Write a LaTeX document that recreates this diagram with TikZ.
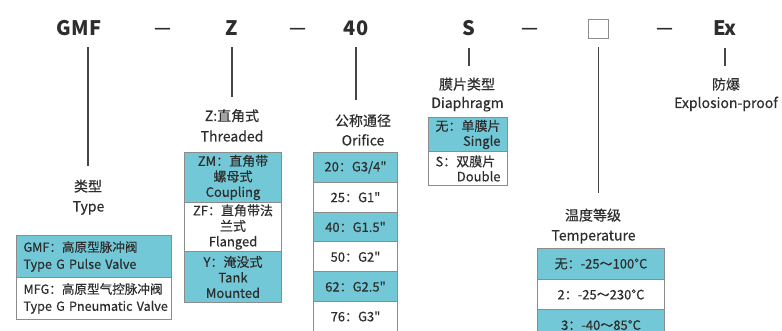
\documentclass[tikz,border=0pt]{standalone}
\usepackage{fontspec}
\setmainfont{Noto Sans CJK SC}
\newfontfamily\medfont{Noto Sans CJK SC}[FakeBold=0.35]
\usetikzlibrary{calc}
\definecolor{cyanfill}{RGB}{114,200,214}
\definecolor{bord}{RGB}{140,140,140}
\definecolor{txt}{RGB}{45,45,45}
\definecolor{conncol}{RGB}{70,70,70}
\tikzset{
  hdr/.style={font=\fontsize{20}{24}\selectfont\bfseries, text=txt, inner sep=0pt, anchor=base},
  dashsym/.style={font=\fontsize{20}{24}\selectfont, text=txt, inner sep=0pt},
  lbl/.style={font=\medfont\fontsize{14}{18}\selectfont, text=txt, inner sep=0pt, anchor=base},
  cell/.style 2 args={draw=bord, line width=1pt, minimum width=#1, minimum height=#2,
    inner sep=0pt, anchor=north west, font=\medfont\fontsize{13}{16}\selectfont, align=center, text=txt},
  cy/.style={fill=cyanfill},
  wh/.style={fill=white},
  conn/.style={draw=conncol, line width=1.4pt},
}
\newcommand\inch{\char34}
\begin{document}
\begin{tikzpicture}[x=1pt,y=-1pt]
\clip (0,0) rectangle (782,331);
\fill[white] (0,0) rectangle (782,331);

% header row
\node[hdr] (gmf) at (79,36) {GMF};
\node[dashsym] (d1) at (162.5,32) {\scalebox{0.95}[1.3]{—}};
\node[hdr] (z) at (232,36) {Z};
\node[dashsym] (d2) at (297.5,32) {\scalebox{0.95}[1.3]{—}};
\node[hdr] (forty) at (356,36) {40};
\node[hdr] (s) at (469,36) {S};
\node[dashsym] (d3) at (530,32) {\scalebox{0.95}[1.3]{—}};
\node[draw=bord, line width=1.2pt, minimum width=20pt, minimum height=18.5pt, inner sep=0pt] (sq) at (598.5,29) {};
\node[dashsym] (d4) at (665,32) {\scalebox{0.95}[1.3]{—}};
\node[hdr] (ex) at (725,36) {Ex};

% labels
\node[lbl] (typezh) at (88,191.5) {类型};
\node[lbl] (typeen) at (88.5,211.5) {Type};
\node[lbl] (zzh) at (232,121) {Z:直角式};
\node[lbl] (zen) at (232,141.5) {Threaded};
\node[lbl] (orzh) at (363,126) {公称通径};
\node[lbl] (oren) at (363,145.5) {Orifice};
\node[lbl] (dizh) at (467,89.5) {膜片类型};
\node[lbl] (dien) at (467.5,108) {Diaphragm};
\node[lbl] (exzh) at (726,89.5) {防爆};
\node[lbl] (exen) at (726,108) {Explosion-proof};
\node[lbl] (tezh) at (593,220.5) {温度等级};
\node[lbl] (teen) at (593.5,240.5) {Temperature};

% connectors
\draw[conn, shorten <=11pt, shorten >=14pt] (typezh.north |- gmf.south) -- (typezh.north);
\draw[conn, shorten <=11pt, shorten >=12pt] (z.south) -- (z.south |- zzh.north);
\draw[conn, shorten <=11pt, shorten >=14pt] (forty.south) -- (forty.south |- orzh.north);
\draw[conn, shorten <=11.5pt, shorten >=11.5pt] (s.south) -- (s.south |- dizh.north);
\draw[conn, shorten <=8.5pt, shorten >=15.5pt] (sq.south) -- (sq.south |- tezh.north);
\draw[conn, shorten <=11.5pt, shorten >=11.5pt] (ex.south) -- (ex.south |- exzh.north);

% type box
\node[cell={155}{42}, cy, text width=141, align=left, font=\medfont\fontsize{12.6}{17}\selectfont] (t1) at (16,235)
  {\mbox{GMF：高原型脉冲阀}\\\mbox{Type G Pulse Valve}};
\node[cell={155}{42}, wh, text width=141, align=left, font=\medfont\fontsize{12.6}{17}\selectfont] (t2) at (16,277)
  {\mbox{MFG：高原型气控脉冲阀}\\\mbox{Type G Pneumatic Valve}};

% connection box
\node[cell={97}{50}, cy, font=\medfont\fontsize{13}{15.5}\selectfont] (c1) at (184,152) {ZM：直角带\\螺母式\\Coupling};
\node[cell={97}{49}, wh, font=\medfont\fontsize{13}{15.5}\selectfont] (c2) at (184,202) {ZF：直角带法\\兰式\\Flanged};
\node[cell={97}{51}, cy, font=\medfont\fontsize{13}{15.5}\selectfont] (c3) at (184,251) {Y：淹没式\\Tank\\Mounted};

% orifice box
\node[cell={84}{29.8}, cy] (o1) at (313,152) {20：G3/4\inch};
\node[cell={84}{29.8}, wh] (o2) at (313,181.8) {25：G1\inch};
\node[cell={84}{29.8}, cy] (o3) at (313,211.6) {40：G1.5\inch};
\node[cell={84}{29.8}, wh] (o4) at (313,241.4) {50：G2\inch};
\node[cell={84}{29.8}, cy] (o5) at (313,271.2) {62：G2.5\inch};
\node[cell={84}{29.8}, wh] (o6) at (313,301) {76：G3\inch};

% diaphragm box
\node[cell={79}{34}, cy, text width=65, align=left, font=\medfont\fontsize{13}{15}\selectfont] (m1) at (428,117)
  {\mbox{无：单膜片}\\\hspace*{\fill}Single};
\node[cell={79}{34}, wh, text width=65, align=left, font=\medfont\fontsize{13}{15}\selectfont] (m2) at (428,151)
  {\mbox{S：双膜片}\\\hspace*{\fill}Double};

% temperature box
\node[cell={127}{31}, cy] (k1) at (537,248) {无：-25～100°C};
\node[cell={127}{30}, wh] (k2) at (537,279) {2：-25～230°C};
\node[cell={127}{31}, cy] (k3) at (537,309) {3：-40～85°C};
\end{tikzpicture}
\end{document}
